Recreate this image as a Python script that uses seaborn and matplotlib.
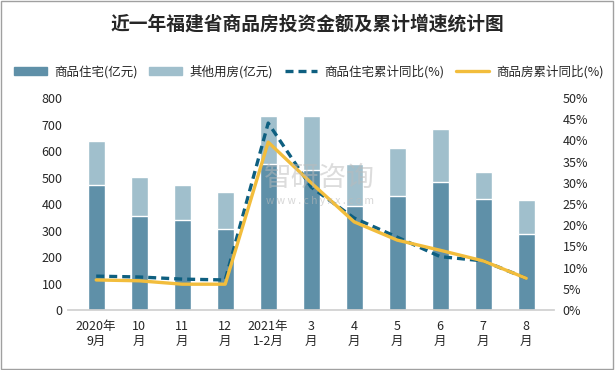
import matplotlib.pyplot as plt
import pandas as pd
import seaborn as sns
from matplotlib.lines import Line2D
from matplotlib.patches import Patch

months = ["2020年\n9月", "10\n月", "11\n月", "12\n月", "2021年\n1-2月",
          "3\n月", "4\n月", "5\n月", "6\n月", "7\n月", "8\n月"]
residential = [472, 355, 340, 306, 551, 528, 392, 430, 483, 419, 287]
total = [638, 502, 472, 445, 732, 732, 551, 611, 683, 521, 415]
res_growth = [8.0, 7.8, 7.3, 7.1, 44.1, 29.0, 21.7, 17.2, 12.6, 11.6, 7.5]
all_growth = [7.1, 6.9, 6.1, 6.1, 39.6, 30.0, 20.8, 16.5, 14.1, 11.6, 7.5]

C_RES = "#5f90a8"
C_OTHER = "#a0bfcc"
C_DASH = "#0e5f80"
C_GOLD = "#f2bd3c"


def main():
    sns.set_theme(style="white")
    plt.rcParams["font.family"] = ["Noto Sans CJK SC", "DejaVu Sans"]

    df = pd.DataFrame({
        "month": months,
        "residential": residential,
        "total": total,
        "res_growth": res_growth,
        "all_growth": all_growth,
    })
    df["idx"] = range(len(df))

    fig = plt.figure(figsize=(6.15, 3.7), dpi=100)
    ax = fig.add_axes([0.111, 0.162, 0.79, 0.573])

    sns.barplot(data=df, x="month", y="total", color=C_OTHER, width=0.39,
                saturation=1, ax=ax)
    sns.barplot(data=df, x="month", y="residential", color=C_RES, width=0.39,
                saturation=1, ax=ax)
    ax.set_ylim(0, 800)
    ax.set_yticks(range(0, 801, 100))
    ax.set_xlim(-0.65, len(months) - 0.35)
    ax.set_xlabel("")
    ax.set_ylabel("")
    ax.tick_params(axis="both", labelsize=9, length=0, pad=4)
    ax.tick_params(axis="x", pad=7)
    for s in ["top", "left", "right"]:
        ax.spines[s].set_visible(False)
    ax.spines["bottom"].set_color("#d0d0d0")

    ax2 = ax.twinx()
    sns.lineplot(data=df, x="idx", y="res_growth", color=C_DASH, lw=2.4, ax=ax2)
    ax2.lines[-1].set_linestyle((0, (2.4, 1.5)))
    sns.lineplot(data=df, x="idx", y="all_growth", color=C_GOLD, lw=2.4, ax=ax2)
    ax2.set_ylim(0, 50)
    ax2.set_yticks(range(0, 51, 5))
    ax2.set_yticklabels([f"{v}%" for v in range(0, 51, 5)])
    ax2.set_xlabel("")
    ax2.set_ylabel("")
    ax2.tick_params(axis="y", labelsize=9, length=0, pad=6)
    for s in ax2.spines.values():
        s.set_visible(False)

    fig.text(0.5, 0.935, "近一年福建省商品房投资金额及累计增速统计图",
             ha="center", va="center", fontsize=13.5, fontweight="bold")

    handles = [
        Patch(color=C_RES),
        Patch(color=C_OTHER),
        Line2D([], [], color=C_DASH, lw=2.4, ls=(0, (2.4, 1.5))),
        Line2D([], [], color=C_GOLD, lw=2.4),
    ]
    labels = ["商品住宅(亿元)", "其他用房(亿元)", "商品住宅累计同比(%)", "商品房累计同比(%)"]
    fig.legend(handles, labels, loc="lower left",
               bbox_to_anchor=(0.015, 0.775, 0.975, 0.06), mode="expand",
               ncol=4, frameon=False, fontsize=9, handlelength=2.6,
               handleheight=0.6, columnspacing=0.8, handletextpad=0.6,
               borderaxespad=0)

    fig.text(0.52, 0.519, "智研咨询", ha="center", va="center", fontsize=20,
             color="#bbbbbb", alpha=0.5)
    fig.text(0.52, 0.458, "w w w . c h y x x . c o m", ha="center", va="center",
             fontsize=7.5, color="#bbbbbb", alpha=0.6)

    fig.patches.append(plt.Rectangle((0.002, 0.003), 0.995, 0.994,
                                     transform=fig.transFigure, fill=False,
                                     edgecolor="#a0a0a0", lw=1))
    fig.savefig("out.png", dpi=100)
    plt.close(fig)


if __name__ == "__main__":
    main()
